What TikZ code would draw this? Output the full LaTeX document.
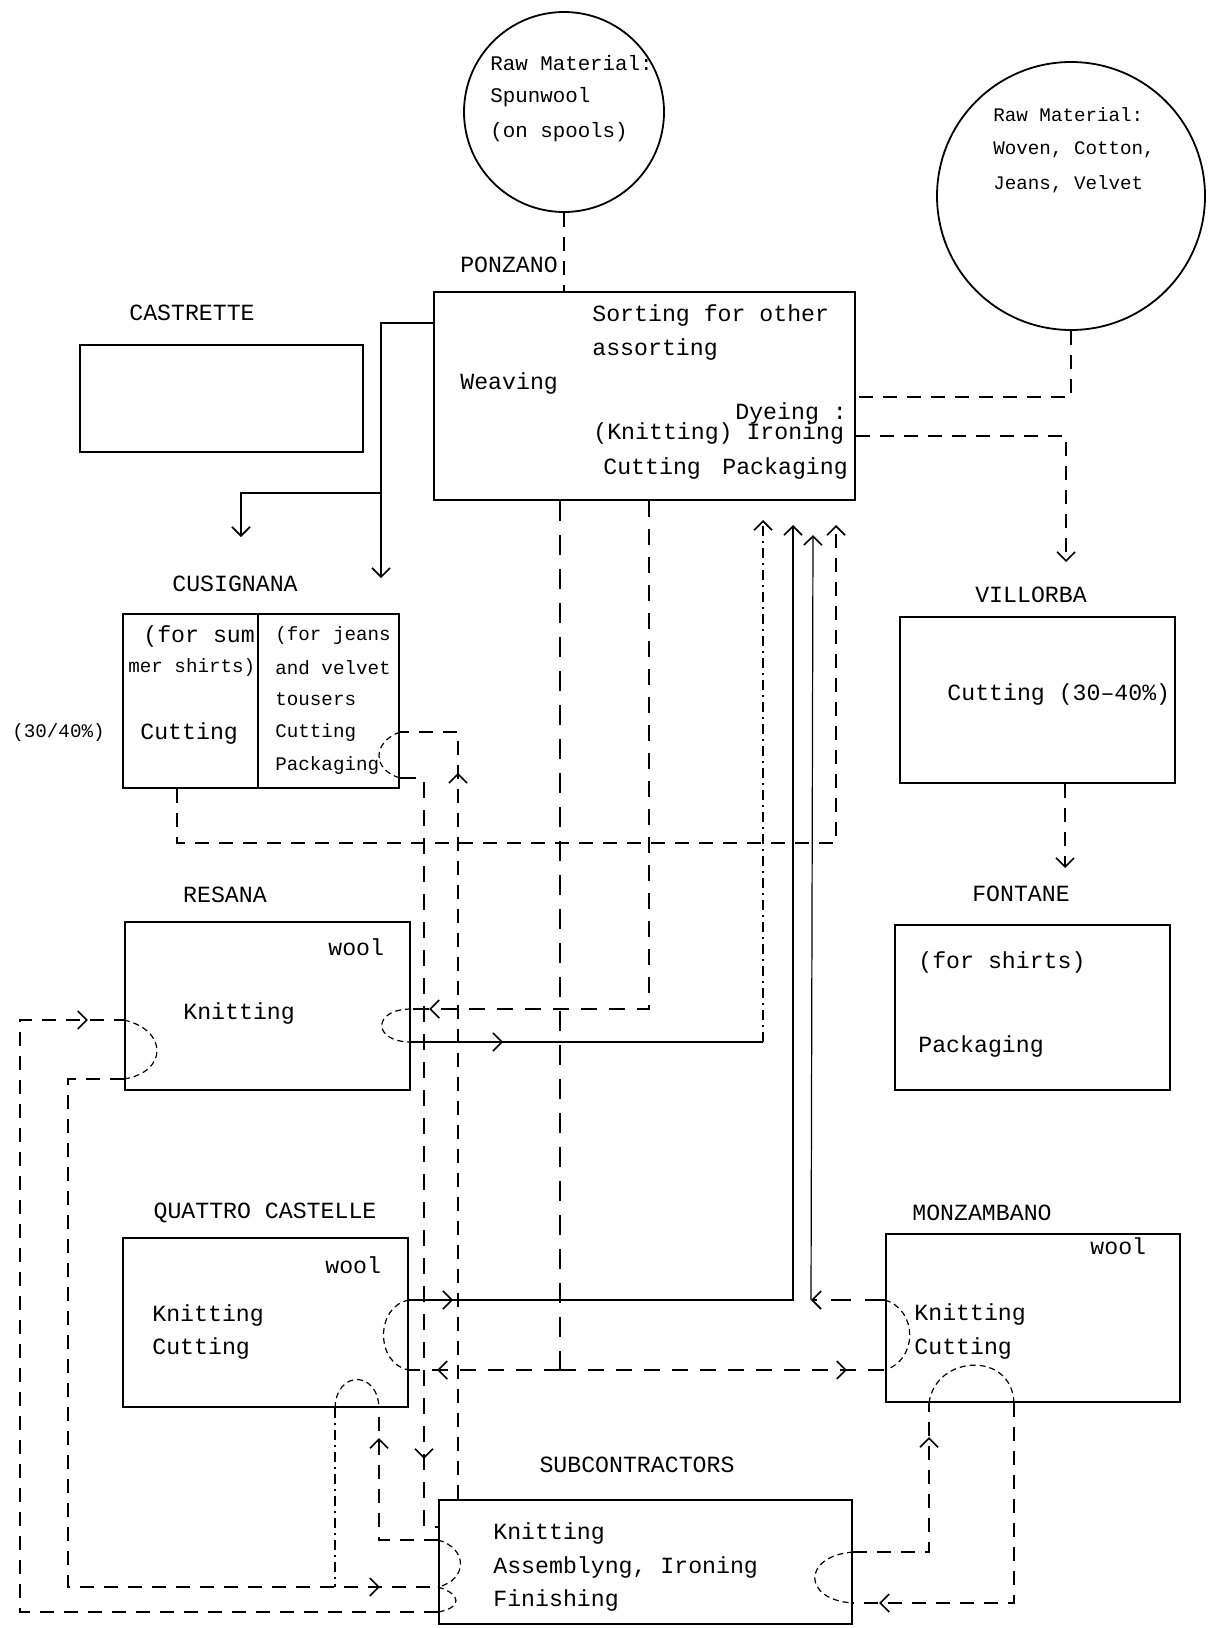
\documentclass[tikz,border=0pt]{standalone}
\usepackage{fontspec}
\setmainfont{Liberation Mono}
\usetikzlibrary{arrows.meta,decorations.markings,fit}
\begin{document}
\begin{tikzpicture}[x=0.5pt,y=-0.5pt,
  >={Straight Barb[length=4.5pt,width=9pt,line width=0.8pt]},
  box/.style={draw,line width=1.1pt,inner sep=0pt},
  circ/.style={draw,circle,line width=0.9pt,inner sep=0pt},
  lbl/.style={font=\fontsize{11.6pt}{14pt}\selectfont,inner sep=0pt},
  txt/.style={font=\fontsize{11.6pt}{14pt}\selectfont,inner sep=0pt,anchor=west},
  stxt/.style={font=\fontsize{9.6pt}{12pt}\selectfont,inner sep=0pt,anchor=west},
  ctxt/.style={font=\fontsize{10.4pt}{12pt}\selectfont,inner sep=0pt,anchor=west},
  solidc/.style={line width=0.6pt},
  thinc/.style={line width=0.6pt,dash pattern=on 7pt off 5pt},
  medc/.style={line width=1pt,dash pattern=on 8pt off 6pt},
  thickc/.style={line width=1.4pt,dash pattern=on 10pt off 7pt},
  dotc/.style={line width=0.6pt,dash pattern=on 5pt off 2.5pt on 1pt off 2.5pt},
  loopc/.style={line width=0.6pt,dash pattern=on 3pt off 2pt},
  marr/.style={postaction={decorate,decoration={markings,mark=at position #1 with {\arrow{>}}}}},
]
\useasboundingbox (0,0) rectangle (1213,1628);

% ---- raw materials
\node[circ,minimum size=100pt] (spun) at (564,112) {};
\node[ctxt] (s1) at (490,63) {Raw Material:};
\node[ctxt] (s2) at (490,97) {Spunwool};
\node[ctxt] (s3) at (490,132) {(on spools)};

\node[circ,minimum size=134pt] (raw2) at (1071,196) {};
\node[stxt] (w1) at (993,115) {Raw Material:};
\node[stxt] (w2) at (993,150) {Woven, Cotton,};
\node[stxt] (w3) at (993,184) {Jeans, Velvet};

% ---- boxes
\node[box,fit={(434,292) (855,500)}] (ponzano) {};
\node[box,fit={(80,345) (363,452)}] (cast) {};
\node[box,fit={(123,614) (399,788)}] (cus) {};
\node[box,fit={(900,617) (1175,783)}] (villorba) {};
\node[box,fit={(895,925) (1170,1090)}] (fontane) {};
\node[box,fit={(125,922) (410,1090)}] (resana) {};
\node[box,fit={(123,1238) (408,1407)}] (qc) {};
\node[box,fit={(886,1234) (1180,1402)}] (monz) {};
\node[box,fit={(439,1500) (852,1624)}] (subcon) {};
\draw[line width=1pt] (cus.north -| 258,0) -- (cus.south -| 258,0);

% ---- labels
\node[lbl] (lponz) at (509,265) {PONZANO};
\node[lbl] (lcast) at (192,313) {CASTRETTE};
\node[lbl] (lcus) at (235,584) {CUSIGNANA};
\node[lbl] (lvil) at (1031,595) {VILLORBA};
\node[lbl] (lfon) at (1021,894) {FONTANE};
\node[lbl] (lres) at (225,895) {RESANA};
\node[lbl] (lqc) at (265,1213) {QUATTRO CASTELLE};
\node[lbl] (lmon) at (982,1213) {MONZAMBANO};
\node[lbl] (lsub) at (637,1465) {SUBCONTRACTORS};

% ---- box texts
\node[txt] (p1t) at (592,315) {Sorting for other};
\node[txt] (p2t) at (592,349) {assorting};
\node[txt] (p3t) at (460,383) {Weaving};
\node[txt] (p4t) at (735,413) {Dyeing :};
\node[txt] (p5t) at (593,433) {(Knitting) Ironing};
\node[txt] (p6t) at (603,468) {Cutting};
\node[txt] (p7t) at (722,468) {Packaging};

\node[txt] (c1t) at (143,636) {(for sum};
\node[stxt] (c2t) at (128,668) {mer shirts)};
\node[txt] (c3t) at (140,733) {Cutting};
\node[stxt] (c4t) at (275,636) {(for jeans};
\node[stxt] (c5t) at (275,668) {and velvet};
\node[stxt] (c6t) at (275,699) {tousers};
\node[stxt] (c7t) at (275,733) {Cutting};
\node[stxt] (c8t) at (275,766) {Packaging};
\node[stxt] (c9t) at (12,733) {(30/40\%)};

\node[txt] (v1t) at (947,694) {Cutting (30–40\%)};
\node[txt] (f1t) at (918,962) {(for shirts)};
\node[txt] (f2t) at (918,1046) {Packaging};

\node[txt] (r1t) at (328,947) {wool};
\node[txt] (r2t) at (183,1013) {Knitting};

\node[txt] (q1t) at (325,1265) {wool};
\node[txt] (q2t) at (152,1315) {Knitting};
\node[txt] (q3t) at (152,1348) {Cutting};

\node[txt] (m1t) at (1090,1246) {wool};
\node[txt] (m2t) at (914,1314) {Knitting};
\node[txt] (m3t) at (914,1348) {Cutting};

\node[txt] (u1t) at (493,1533) {Knitting};
\node[txt] (u2t) at (493,1567) {Assemblyng, Ironing};
\node[txt] (u3t) at (493,1600) {Finishing};

% ---- connectors
\draw[thinc] (spun.south) -- (spun.south |- ponzano.north);
\draw[thinc] (raw2.south) |- (ponzano.east |- 0,397);
\coordinate (vtip) at (1066,562);
\draw[thinc,->] (ponzano.east |- 0,436) -| (vtip);
\coordinate (ftip) at (1065,868);
\draw[thinc,->] (villorba.south -| ftip) -- (ftip);

\coordinate (ctip1) at (381,578);
\coordinate (ctip2) at (241,537);
\coordinate (cbr) at (381,493);
\draw[line width=1pt,->] (ponzano.west |- 0,323) -| (ctip1);
\draw[solidc,->] (cbr) -| (ctip2);

% Ponzano -> Resana
\draw[medc,marr=-9pt] (ponzano.south -| 649,0) |- (resana.east |- 0,1009);
% Ponzano -> Quattro Castelle / Monzambano
\coordinate (sp) at (560,1370);
\draw[thickc] (ponzano.south -| sp) -- (sp);
\draw[medc,marr=-14pt] (sp) -- (qc.east |- sp);
\draw[medc,marr=-19pt] (sp) -- (monz.west |- sp);

% Cusignana -> Ponzano
\coordinate (p4) at (836,525);
\draw[thinc,->] (cus.south -| 177,0) |- (p4 |- 0,843) -- (p4);

% Resana -> Ponzano
\coordinate (p1) at (763,520);
\coordinate (a1) at (763,1042);
\draw[solidc,marr=46pt] (resana.east |- a1) -- (a1);
\draw[dotc,->] (a1) -- (p1);

% Quattro Castelle -> Ponzano
\coordinate (p2) at (793,525);
\draw[line width=0.8pt,->,marr=22pt] (qc.east |- 0,1300) -| (p2);

% Monzambano -> Ponzano
\coordinate (p3) at (813,535);
\coordinate (m3) at (811,1300);
\draw[thickc,->] (monz.west |- m3) -- (m3);
\draw[solidc,->] (m3) -- (p3);

% Subcontractors -> Cusignana
\coordinate (u1) at (458,732);
\draw[thinc,marr=363pt] (subcon.north -| u1) -- (u1) -- (cus.east |- u1);

% Cusignana -> Subcontractors
\coordinate (d1) at (424,778);
\coordinate (d2) at (424,1527);
\draw[medc,marr=-41pt] (cus.east |- d1) -- (d1) -- (d2) -- (subcon.west |- d2);

% Subcontractors -> Resana (outer loop)
\coordinate (o1) at (20,1612);
\coordinate (o2) at (20,1020);
\draw[thinc,marr=-18pt] (subcon.west |- o1) -- (o1) -- (o2) -- (resana.west |- o2);

% Resana -> Subcontractors
\coordinate (r1) at (68,1079);
\coordinate (r2) at (68,1587);
\draw[thinc,marr=-29pt] (resana.west |- r1) -- (r1) -- (r2) -- (subcon.west |- r2);

% Quattro Castelle -> Subcontractors
\coordinate (q1) at (335,1587);
\draw[dotc] (qc.south -| q1) -- (q1);

% Subcontractors -> Quattro Castelle
\coordinate (q2) at (379,1540);
\draw[thinc,marr=-15pt] (subcon.west |- q2) -- (q2) -- (qc.south -| q2);

% Monzambano -> Subcontractors
\coordinate (n1) at (1014,1603);
\draw[thinc,marr=-13pt] (monz.south -| n1) -- (n1) -- (subcon.east |- n1);

% Subcontractors -> Monzambano
\coordinate (n2) at (929,1552);
\draw[thinc,marr=-17pt] (subcon.east |- n2) -- (n2) -- (monz.south -| n2);

% ---- small loops at box edges
\draw[loopc] (cus.east |- 0,732) .. controls (372,742) and (372,770) .. (cus.east |- 0,778);
\draw[loopc] (resana.west |- 0,1020) .. controls (168,1030) and (168,1072) .. (resana.west |- 0,1079);
\draw[loopc] (resana.east |- 0,1009) .. controls (372,1009) and (372,1042) .. (resana.east |- 0,1042);
\draw[loopc] (qc.east |- 0,1300) .. controls (375,1306) and (375,1364) .. (qc.east |- 0,1370);
\draw[loopc] (qc.south -| 335,0) .. controls (336,1370) and (378,1370) .. (qc.south -| 379,0);
\draw[loopc] (monz.west |- 0,1300) .. controls (918,1310) and (918,1360) .. (monz.west |- 0,1370);
\draw[loopc] (monz.south -| 929,0) .. controls (935,1355) and (1012,1350) .. (monz.south -| 1014,0);
\draw[loopc] (subcon.east |- 0,1552) .. controls (802,1556) and (802,1600) .. (subcon.east |- 0,1603);
\draw[loopc] (subcon.west |- 0,1540) .. controls (468,1548) and (468,1580) .. (subcon.west |- 0,1587);
\draw[loopc] (subcon.west |- 0,1587) .. controls (462,1594) and (462,1608) .. (subcon.west |- 0,1612);
\end{tikzpicture}
\end{document}
